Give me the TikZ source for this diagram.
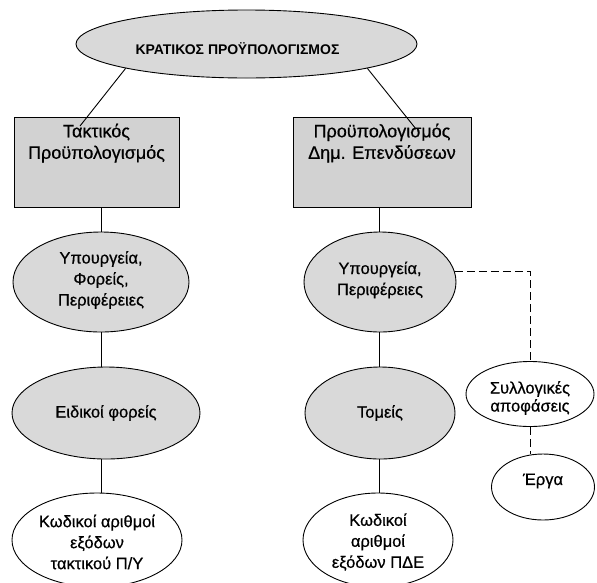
\documentclass[tikz,border=0pt]{standalone}
\usepackage{fontspec}
\setmainfont{Liberation Sans}
\newfontfamily\heavy{Liberation Sans}[FakeBold=0.6]
\usetikzlibrary{shapes.geometric}
\definecolor{fillgray}{RGB}{217,217,217}
\definecolor{boxgray}{RGB}{210,210,210}
\begin{document}
\begin{tikzpicture}[x=1pt,y=-1pt,
  ell/.style={ellipse, draw, line width=0.9pt, inner sep=0pt},
  grayell/.style={ell, fill=fillgray},
  txt/.style={align=center, inner sep=0pt, font=\heavy\fontsize{16.5}{21}\selectfont},
  box/.style={rectangle, draw, fill=boxgray, line width=1pt, inner sep=0pt},
  boxtxt/.style={align=center, inner sep=0pt, anchor=north, yshift=-7pt, font=\heavy\fontsize{18}{21.5}\selectfont},
  conn/.style={line width=0.9pt},
  dashconn/.style={conn, dash pattern=on 8pt off 4pt}]
\useasboundingbox (0,0) rectangle (597,582);

% top
\node[grayell, minimum width=341, minimum height=68,
  label={[inner sep=0pt, font=\fontsize{14}{16}\selectfont\bfseries, xshift=-9pt, yshift=-5pt]center:{ΚΡΑΤΙΚΟΣ ΠΡΟΫΠΟΛΟΓΙΣΜΟΣ}}] (top) at (246.5,44) {};

% boxes
\node[box, minimum width=165, minimum height=90,
  label={[boxtxt]north:{Τακτικός\\Προϋπολογισμός}}] (tb) at (96.5,162) {};
\node[box, minimum width=178, minimum height=90,
  label={[boxtxt]north:{Προϋπολογισμός\\Δημ. Επενδύσεων}}] (pb) at (382,162) {};

% left column
\node[grayell, minimum width=176, minimum height=100,
  label={[txt, yshift=2pt]center:{Υπουργεία,\\Φορείς,\\Περιφέρειες}}] (l1) at (101,282) {};
\node[grayell, minimum width=188, minimum height=92,
  label={[txt]center:{Ειδικοί φορείς}}] (l2) at (106,413) {};
\node[ell, minimum width=170, minimum height=94,
  label={[txt, yshift=-2pt]center:{Κωδικοί αριθμοί\\εξόδων\\τακτικού Π/Υ}}] (l3) at (97,540) {};

% right column
\node[grayell, minimum width=152, minimum height=100,
  label={[txt, yshift=2pt]center:{Υπουργεία,\\Περιφέρειες}}] (r1) at (380,282) {};
\node[grayell, minimum width=150, minimum height=92,
  label={[txt]center:{Τομείς}}] (r2) at (380,413) {};
\node[ell, minimum width=150, minimum height=94,
  label={[txt, yshift=-2pt]center:{Κωδικοί\\αριθμοί\\εξόδων ΠΔΕ}}] (r3) at (378,540) {};

% side column
\node[ell, minimum width=128, minimum height=65,
  label={[txt, font=\heavy\fontsize{16.5}{18}\selectfont, yshift=-4pt]center:{Συλλογικές\\αποφάσεις}}] (syl) at (530,394) {};
\node[ell, minimum width=103, minimum height=66,
  label={[txt, yshift=6pt]center:{Έργα}}] (erga) at (543,487) {};

% connectors
\coordinate (a1) at (80,126);
\coordinate (a2) at (416,129);
\draw[conn] (top.south west) -- (a1);
\draw[conn] (top.south east) -- (a2);

\coordinate (lx) at (101.5,0);
\coordinate (rx) at (379.5,0);
\draw[conn] (lx |- tb.south) -- (lx |- l1.north);
\draw[conn] (lx |- l1.south) -- (lx |- l2.north);
\draw[conn] (lx |- l2.south) -- (lx |- l3.north);
\draw[conn] (rx |- pb.south) -- (rx |- r1.north);
\draw[conn] (rx |- r1.south) -- (rx |- r2.north);
\draw[conn] (rx |- r2.south) -- (rx |- r3.north);

\draw[dashconn] (r1.8) -| (syl.north);
\draw[dashconn] (syl.south) -- (syl.south |- erga.north);
\end{tikzpicture}
\end{document}
